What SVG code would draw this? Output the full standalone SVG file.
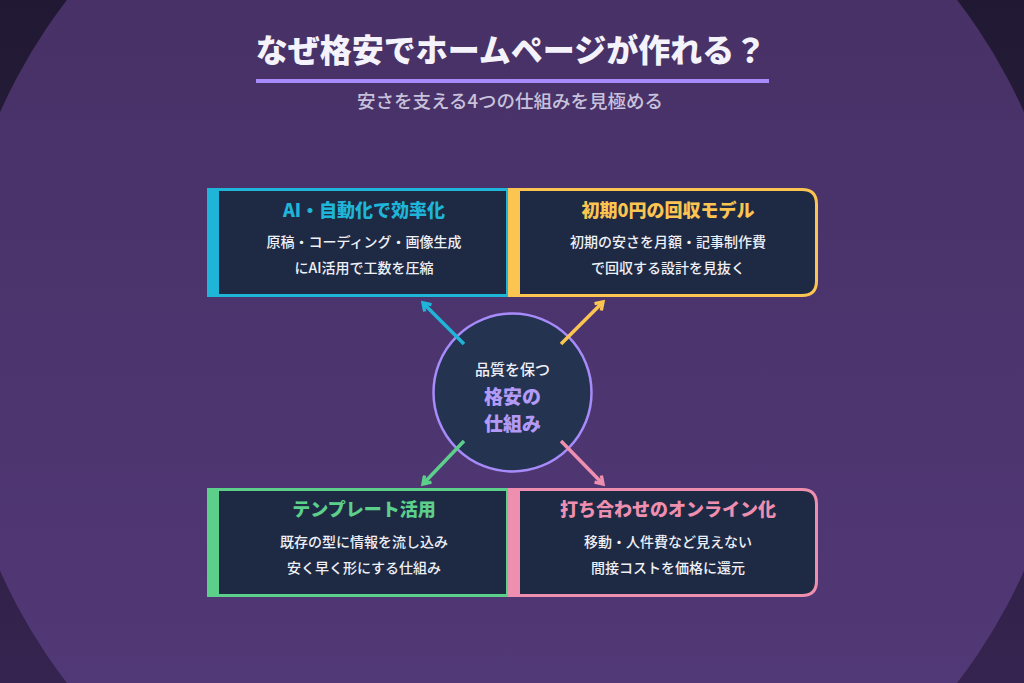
<svg xmlns="http://www.w3.org/2000/svg" width="1024" height="683" viewBox="0 0 1024 683">
<defs>
<linearGradient id="bgOut" x1="0" y1="0" x2="0" y2="1"><stop offset="0" stop-color="#211933"/><stop offset="1" stop-color="#35244f"/></linearGradient>
<linearGradient id="bgIn" x1="0" y1="0" x2="0" y2="1"><stop offset="0" stop-color="#442f61"/><stop offset="1" stop-color="#543a7b"/></linearGradient>
<marker id="mc" viewBox="0 0 10 10" refX="7.5" refY="5" markerWidth="12" markerHeight="12" markerUnits="userSpaceOnUse" orient="auto"><path d="M1.5,1 L7.5,5 L1.5,9" fill="none" stroke="#1fb5d9" stroke-width="2.8" stroke-linejoin="miter"/></marker>
<marker id="my" viewBox="0 0 10 10" refX="7.5" refY="5" markerWidth="12" markerHeight="12" markerUnits="userSpaceOnUse" orient="auto"><path d="M1.5,1 L7.5,5 L1.5,9" fill="none" stroke="#fcc451" stroke-width="2.8" stroke-linejoin="miter"/></marker>
<marker id="mg" viewBox="0 0 10 10" refX="7.5" refY="5" markerWidth="12" markerHeight="12" markerUnits="userSpaceOnUse" orient="auto"><path d="M1.5,1 L7.5,5 L1.5,9" fill="none" stroke="#5ccf8b" stroke-width="2.8" stroke-linejoin="miter"/></marker>
<marker id="mp" viewBox="0 0 10 10" refX="7.5" refY="5" markerWidth="12" markerHeight="12" markerUnits="userSpaceOnUse" orient="auto"><path d="M1.5,1 L7.5,5 L1.5,9" fill="none" stroke="#ef8fb0" stroke-width="2.8" stroke-linejoin="miter"/></marker>
</defs>
<style>
text{font-family:"Noto Sans CJK JP","Noto Sans",sans-serif;text-anchor:middle}
.title{font-size:32px;font-weight:900;fill:#f4f2fa}
.sub{font-size:18.5px;font-weight:500;fill:#c8c2dc}
.bt{font-size:18px;font-weight:800}
.bd{font-size:14px;font-weight:500;fill:#eef0f6}
.box{fill:#1e2a44;stroke-width:3}
.arr{stroke-width:3.5;fill:none;stroke-linecap:butt}
</style>
<rect width="1024" height="683" fill="url(#bgOut)"/>
<circle cx="512" cy="341.5" r="561" fill="url(#bgIn)"/>
<g id="header">
<text class="title" x="511" y="62">なぜ格安でホームページが作れる？</text>
<rect x="256" y="79" width="513" height="4" fill="#a78bfa"/>
<text class="sub" x="510" y="108">安さを支える4つの仕組みを見極める</text>
</g>
<g id="node-ai">
<rect class="box" x="208.5" y="189.5" width="299" height="106" stroke="#1fb5d9"/>
<rect x="207" y="188" width="12" height="109" fill="#1fb5d9"/>
<text class="bt" x="364" y="217" fill="#1fb5d9">AI・自動化で効率化</text>
<text class="bd" x="364" y="247">原稿・コーディング・画像生成</text>
<text class="bd" x="364" y="273">にAI活用で工数を圧縮</text>
</g>
<g id="node-zero">
<path class="box" d="M509.5,189.5 H802 Q816.5,189.5 816.5,204 V281 Q816.5,295.5 802,295.5 H509.5 Z" stroke="#fcc451"/>
<rect x="508" y="188" width="12" height="109" fill="#fcc451"/>
<text class="bt" x="668" y="217" fill="#fcc451">初期0円の回収モデル</text>
<text class="bd" x="668" y="247">初期の安さを月額・記事制作費</text>
<text class="bd" x="668" y="273">で回収する設計を見抜く</text>
</g>
<g id="node-template">
<rect class="box" x="208.5" y="489.5" width="299" height="106" stroke="#5ccf8b"/>
<rect x="207" y="488" width="12" height="109" fill="#5ccf8b"/>
<text class="bt" x="364" y="516" fill="#5ccf8b">テンプレート活用</text>
<text class="bd" x="364" y="547">既存の型に情報を流し込み</text>
<text class="bd" x="364" y="573">安く早く形にする仕組み</text>
</g>
<g id="node-online">
<path class="box" d="M509.5,489.5 H802 Q816.5,489.5 816.5,504 V581 Q816.5,595.5 802,595.5 H509.5 Z" stroke="#ef8fb0"/>
<rect x="508" y="488" width="12" height="109" fill="#ef8fb0"/>
<text class="bt" x="668" y="516" fill="#ef8fb0">打ち合わせのオンライン化</text>
<text class="bd" x="668" y="547">移動・人件費など見えない</text>
<text class="bd" x="668" y="573">間接コストを価格に還元</text>
</g>
<g id="node-center">
<circle cx="512.5" cy="392.5" r="79" fill="#233350" stroke="#a78bfa" stroke-width="2.5"/>
<text x="512.5" y="375" font-size="15" font-weight="500" fill="#eef0f6">品質を保つ</text>
<text x="512.5" y="404" font-size="19" font-weight="800" fill="#b39af7">格安の</text>
<text x="512.5" y="431" font-size="19" font-weight="800" fill="#b39af7">仕組み</text>
</g>
<g id="connectors">
<line class="arr" x1="464" y1="344" x2="423" y2="303" stroke="#1fb5d9" marker-end="url(#mc)"/>
<line class="arr" x1="561" y1="344" x2="603" y2="302" stroke="#fcc451" marker-end="url(#my)"/>
<line class="arr" x1="464" y1="441" x2="423" y2="484" stroke="#5ccf8b" marker-end="url(#mg)"/>
<line class="arr" x1="561" y1="441" x2="603" y2="484" stroke="#ef8fb0" marker-end="url(#mp)"/>
</g>
</svg>
